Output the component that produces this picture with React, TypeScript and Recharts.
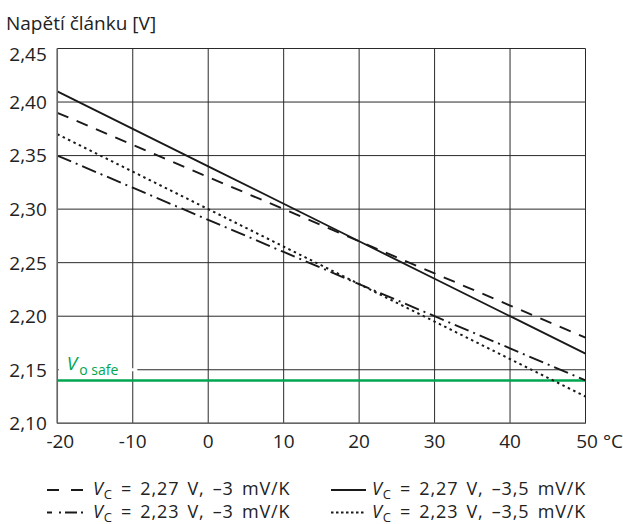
import React from 'react';
import { LineChart, Line, XAxis, YAxis, CartesianGrid, ReferenceLine } from 'recharts';

const temps = [-20, -10, 0, 10, 20, 30, 40, 50];
const vc227_3 = [2.39, 2.36, 2.33, 2.3, 2.27, 2.24, 2.21, 2.18];
const vc227_35 = [2.41, 2.375, 2.34, 2.305, 2.27, 2.235, 2.2, 2.165];
const vc223_3 = [2.35, 2.32, 2.29, 2.26, 2.23, 2.2, 2.17, 2.14];
const vc223_35 = [2.37, 2.335, 2.3, 2.265, 2.23, 2.195, 2.16, 2.125];
const yTicks = [2.1, 2.15, 2.2, 2.25, 2.3, 2.35, 2.4, 2.45];
const vSafe = 2.14;
const gapEnd = -9.4;

const data = temps.map((t, i) => ({
  t,
  a: vc227_3[i],
  b: vc227_35[i],
  c: vc223_3[i],
  d: vc223_35[i],
}));

const FONT = '"Open Sans", "Noto Sans", sans-serif';
const INK = '#1a1a1a';
const TXT = '#222';
const GREEN = '#00a651';

const XTick = (props: any) => {
  const { x, y, payload } = props;
  const last = payload.value === 50;
  const first = payload.value === -20;
  return (
    <text
      x={last ? x + 37.5 : first ? x + 3 : x}
      y={y + 24.5}
      textAnchor={last ? 'end' : 'middle'}
      fontSize={19}
      fontFamily={FONT}
      fill={TXT}
    >
      {last ? '50 °C' : String(payload.value)}
    </text>
  );
};

const YTick = (props: any) => {
  const { x, y, payload } = props;
  const top = payload.value >= 2.449;
  return (
    <text x={x - 10.5} y={top ? y + 5.5 : y} dy="0.36em" textAnchor="end" fontSize={19} fontFamily={FONT} fill={TXT}>
      {payload.value.toFixed(2).replace('.', ',')}
    </text>
  );
};

const SafeLabel = (props: any) => {
  const vb = props.viewBox || {};
  const x = vb.x ?? 0;
  const y = vb.y ?? 0;
  return (
    <text x={x + 9.5} y={y - 10.5} fill={GREEN} fontFamily={FONT}>
      <tspan fontSize={19} fontStyle="italic">V</tspan>
      <tspan fontSize={14} dx={2} dy={5}>o safe</tspan>
    </text>
  );
};

const LegendText = ({ x, y, rest }: { x: number; y: number; rest: string }) => (
  <text
    x={x}
    y={y}
    fontFamily={FONT}
    fill={TXT}
    fontSize={18}
    style={{ letterSpacing: 0.9, wordSpacing: 2.5 }}
  >
    <tspan fontStyle="italic">V</tspan>
    <tspan fontSize={13} dy={4}>C</tspan>
    <tspan dy={-4}>{rest}</tspan>
  </text>
);

export default function App() {
  return (
    <div style={{ position: 'absolute', left: 0, top: 0, width: 623, height: 524, background: '#fff' }}>
      <LineChart
        width={623}
        height={524}
        data={data}
        margin={{ top: 48.5, right: 37.5, left: 0, bottom: 70.7 }}
      >
        <text x={6} y={29.5} fontSize={19} fontFamily={FONT} fill={TXT}>
          Napětí článku [V]
        </text>
        <CartesianGrid stroke="#2a2a2a" strokeWidth={1} />
        <XAxis
          dataKey="t"
          type="number"
          domain={[-20, 50]}
          ticks={temps}
          height={30}
          tickSize={0}
          tickMargin={0}
          tickLine={false}
          axisLine={{ stroke: '#666', strokeWidth: 1.5 }}
          tick={<XTick />}
          interval={0}
        />
        <YAxis
          type="number"
          domain={[2.1, 2.45]}
          ticks={yTicks}
          width={57.3}
          tickSize={0}
          tickMargin={0}
          tickLine={false}
          axisLine={{ stroke: '#666', strokeWidth: 1.5 }}
          tick={<YTick />}
          interval={0}
          allowDataOverflow
        />
        <ReferenceLine
          segment={[{ x: -19.8, y: 2.15 }, { x: gapEnd, y: 2.15 }]}
          stroke="#fff"
          strokeWidth={3}
        />
        <ReferenceLine y={vSafe} stroke={GREEN} strokeWidth={2.5} label={<SafeLabel />} />
        <Line dataKey="a" stroke={INK} strokeWidth={1.9} strokeDasharray="12 9" dot={false} isAnimationActive={false} />
        <Line dataKey="b" stroke={INK} strokeWidth={1.9} dot={false} isAnimationActive={false} />
        <Line dataKey="c" stroke={INK} strokeWidth={1.9} strokeDasharray="15 5 2 5" dot={false} isAnimationActive={false} />
        <Line dataKey="d" stroke={INK} strokeWidth={2} strokeDasharray="2.5 3.5" dot={false} isAnimationActive={false} />
      </LineChart>
      <svg
        width={623}
        height={58}
        style={{ position: 'absolute', left: 0, top: 466 }}
      >
        <line x1={47} x2={83} y1={24} y2={24} stroke={INK} strokeWidth={1.8} strokeDasharray="12 12" />
        <LegendText x={93} y={29} rest=" = 2,27 V, –3 mV/K" />
        <line x1={331} x2={366} y1={24} y2={24} stroke={INK} strokeWidth={1.8} />
        <LegendText x={372} y={29} rest=" = 2,27 V, –3,5 mV/K" />
        <line x1={47} x2={83} y1={46.5} y2={46.5} stroke={INK} strokeWidth={1.8} strokeDasharray="5 7 2 4 12 4 2 10" />
        <LegendText x={93} y={51.5} rest=" = 2,23 V, –3 mV/K" />
        <line x1={331} x2={366} y1={46.5} y2={46.5} stroke={INK} strokeWidth={1.8} strokeDasharray="2.5 2.5" />
        <LegendText x={372} y={51.5} rest=" = 2,23 V, –3,5 mV/K" />
      </svg>
    </div>
  );
}
